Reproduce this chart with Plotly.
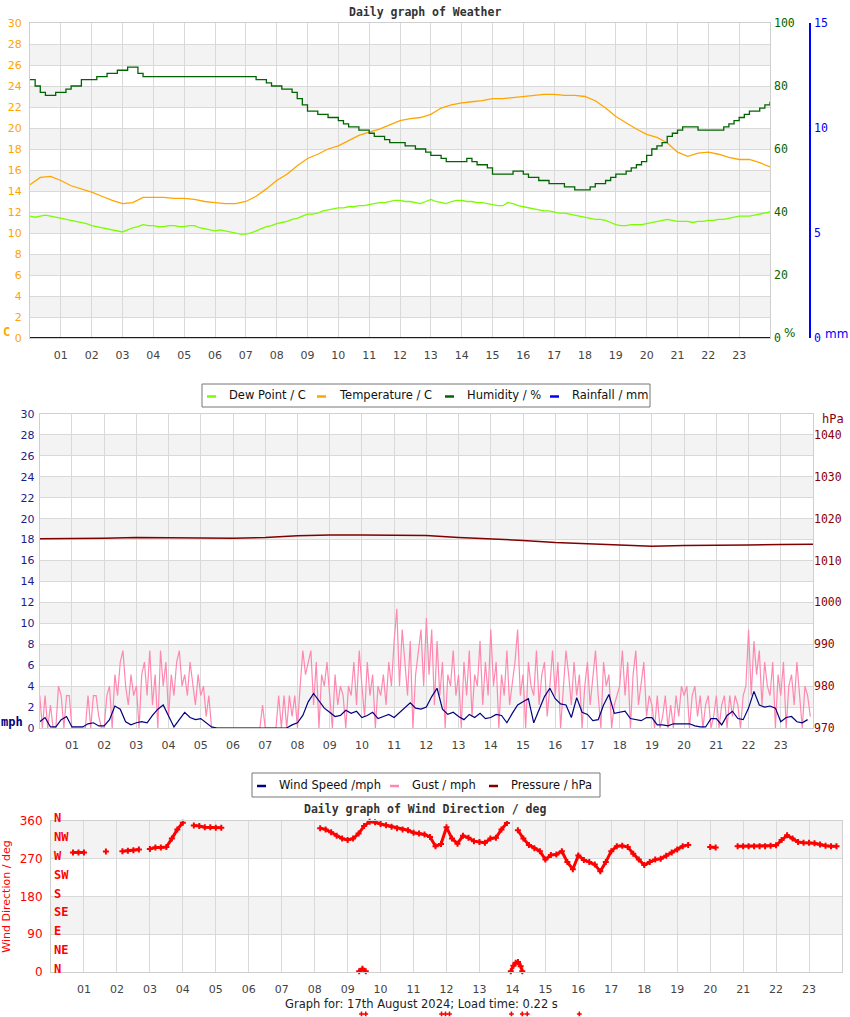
import plotly.graph_objects as go

# ---------------- data ----------------
HOUR_LABELS = ["%02d" % h for h in range(1, 24)]

# 20-minute temperature readings
T20 = [i / 3 for i in range(73)]
TEMP = [14.6, 15.3, 15.4, 15.0, 14.5, 14.2, 13.9, 13.5, 13.1, 12.8, 12.9, 13.4,
        13.4, 13.4, 13.3, 13.3, 13.2, 13.0, 12.9, 12.8, 12.8, 13.0, 13.5, 14.2,
        15.0, 15.6, 16.4, 17.1, 17.5, 18.0, 18.3, 18.8, 19.3, 19.6, 19.9, 20.3,
        20.7, 20.9, 21.0, 21.3, 21.9, 22.2, 22.4, 22.5, 22.6, 22.8, 22.8, 22.9,
        23.0, 23.1, 23.2, 23.2, 23.1, 23.1, 23.0, 22.6, 21.9, 21.1, 20.5, 19.9,
        19.4, 19.1, 18.6, 17.7, 17.3, 17.6, 17.7, 17.5, 17.2, 17.0, 17.0, 16.7,
        16.3]
RAINFALL = [0.0] * 73

# 10-minute readings
T10 = [i / 6 for i in range(145)]
DEW = [11.6, 11.5, 11.6, 11.7, 11.6, 11.5,  11.4, 11.3, 11.2, 11.1, 11.0, 10.9,
       10.7, 10.6, 10.5, 10.4, 10.3, 10.2,  10.1, 10.3, 10.5, 10.6, 10.8, 10.7,
       10.7, 10.6, 10.6, 10.7, 10.7, 10.6,  10.6, 10.7, 10.7, 10.5, 10.4, 10.3,
       10.2, 10.3, 10.2, 10.1, 10.0, 9.9,   9.9, 10.0, 10.2, 10.4, 10.6, 10.7,
       10.9, 11.0, 11.1, 11.3, 11.4, 11.6,  11.8, 11.8, 11.9, 12.1, 12.2, 12.3,
       12.4, 12.4, 12.5, 12.5, 12.6, 12.6,  12.7, 12.8, 12.9, 12.9, 13.0, 13.1,
       13.1, 13.0, 13.0, 12.9, 12.8, 13.0,  13.2, 13.0, 12.9, 12.8, 13.0, 13.1,
       13.1, 13.0, 13.0, 12.9, 12.9, 12.8,  12.7, 12.6, 12.6, 12.9, 12.8, 12.6,
       12.5, 12.4, 12.3, 12.2, 12.1, 12.1,  12.0, 11.9, 11.9, 11.8, 11.7, 11.6,
       11.5, 11.4, 11.3, 11.3, 11.2, 11.0,  10.8, 10.7, 10.7, 10.8, 10.8, 10.8,
       10.9, 11.0, 11.1, 11.2, 11.3, 11.2,  11.1, 11.1, 11.1, 11.0, 11.1, 11.1,
       11.2, 11.2, 11.3, 11.3, 11.4, 11.5,  11.6, 11.6, 11.6, 11.7, 11.8, 11.9,
       12.0]
HUMIDITY = [82, 80, 78, 77, 77, 78,  78, 79, 80, 80, 82, 82,
            82, 83, 83, 84, 84, 85,  85, 86, 86, 84, 83, 83,
            83, 83, 83, 83, 83, 83,  83, 83, 83, 83, 83, 83,
            83, 83, 83, 83, 83, 83,  83, 83, 82, 82, 81, 80,
            80, 79, 79, 78, 76, 74,  72, 72, 71, 71, 70, 70,
            69, 68, 67, 67, 66, 66,  65, 64, 64, 63, 62, 62,
            62, 61, 61, 60, 60, 59,  58, 58, 57, 56, 56, 56,
            56, 57, 56, 55, 55, 54,  52, 52, 52, 52, 53, 53,
            52, 51, 51, 50, 50, 49,  49, 49, 48, 48, 47, 47,
            47, 48, 49, 49, 50, 51,  52, 52, 53, 54, 55, 56,
            58, 60, 61, 62, 64, 65,  66, 67, 67, 67, 66, 66,
            66, 66, 66, 67, 68, 69,  70, 71, 72, 72, 73, 74,
            75]

# chart 2
T10W = [i / 6 for i in range(144)]
WIND_SPEED = [0.6, 1.0, 0.1, 0.1, 0.8, 1.1,  0.1, 0.1, 0.1, 0.4, 0.5, 0.2,
              0.2, 0.8, 2.1, 1.8, 0.6, 0.3,  0.5, 0.6, 0.5, 1.2, 1.8, 2.2,
              1.2, 0.1, 0.8, 1.5, 1.0, 0.8,  0.9, 0.5, 0.1, 0.0, 0.0, 0.0,
              0.0, 0.0, 0.0, 0.0, 0.0, 0.0,  0.0, 0.0, 0.0, 0.0, 0.0, 0.3,
              0.5, 1.2, 2.5, 3.3, 2.6, 1.9,  1.5, 1.1, 1.2, 1.7, 1.4, 1.6,
              1.0, 1.2, 1.5, 0.9, 1.1, 1.3,  1.0, 1.5, 2.0, 2.4, 1.9, 1.8,
              2.0, 3.0, 3.8, 1.8, 1.3, 1.5,  1.1, 0.8, 1.3, 1.0, 1.4, 0.9,
              1.0, 1.3, 1.2, 0.5, 1.4, 2.2,  2.5, 2.8, 0.5, 1.8, 3.0, 3.8,
              2.8, 2.3, 2.2, 1.0, 2.9, 1.5,  1.3, 0.7, 0.8, 2.2, 3.2, 1.4,
              1.5, 1.6, 0.9, 0.8, 0.7, 1.0,  1.0, 0.3, 0.3, 0.2, 0.4, 0.4,
              0.4, 0.4, 0.2, 0.1, 0.1, 0.9,  0.9, 0.3, 1.2, 1.6, 0.9, 0.8,
              1.9, 3.5, 2.2, 2.0, 2.1, 1.9,  0.6, 1.0, 1.1, 0.6, 0.5, 0.8]

T5 = [i / 12 for i in range(288)]
GUST = [3.1, 0, 3.1, 0, 2.2, 0, 0, 4.0, 3.1, 0, 3.1, 3.1,
        0, 0, 0, 0, 0, 0, 3.1, 0, 3.1, 3.1, 1.1, 0,
        0, 3.1, 4.0, 0, 5.1, 3.1, 6.3, 7.4, 4.0, 2.2, 5.1, 3.1,
        4.0, 0, 5.1, 6.3, 3.1, 7.4, 2.2, 5.1, 0, 7.4, 4.0, 6.3,
        1.1, 5.1, 3.1, 6.3, 7.4, 4.0, 5.1, 3.1, 6.3, 4.0, 2.2, 5.1,
        3.1, 4.0, 1.1, 3.1, 0, 0, 0, 0, 0, 0, 0, 0,
        0, 0, 0, 0, 0, 0, 0, 0, 0, 0, 0, 2.2,
        0, 0, 0, 0, 0, 3.1, 0, 3.1, 0, 3.1, 1.1, 3.1,
        0, 4.0, 7.4, 5.1, 6.3, 7.4, 2.2, 6.3, 0, 5.1, 4.0, 6.3,
        3.1, 0, 5.1, 2.2, 4.0, 3.1, 0, 4.0, 3.1, 6.3, 2.2, 7.4,
        4.0, 1.1, 6.3, 3.1, 5.1, 0, 4.0, 3.1, 5.1, 2.2, 6.3, 4.0,
        8.3, 11.4, 4.0, 9.4, 6.3, 3.1, 8.3, 0, 5.1, 7.4, 9.4, 4.0,
        10.5, 5.1, 9.4, 2.2, 8.3, 3.1, 6.3, 0, 5.1, 4.0, 7.4, 3.1,
        5.1, 0, 6.3, 3.1, 7.4, 1.1, 5.1, 4.0, 8.3, 2.2, 6.3, 3.1,
        9.4, 4.0, 6.3, 0, 5.1, 3.1, 7.4, 2.2, 4.0, 6.3, 9.4, 3.1,
        5.1, 0, 6.3, 4.0, 3.1, 7.4, 2.2, 5.1, 6.3, 1.1, 4.0, 7.4,
        3.1, 6.3, 0, 4.0, 7.4, 5.1, 2.2, 6.3, 3.1, 5.1, 0, 4.0,
        6.3, 2.2, 5.1, 7.4, 3.1, 0, 6.3, 4.0, 5.1, 0, 2.2, 3.1,
        4.0, 7.4, 3.1, 6.3, 0, 5.1, 7.4, 2.2, 4.0, 6.3, 1.1, 3.1,
        2.2, 0, 3.1, 0, 1.1, 3.1, 0, 2.2, 0, 3.1, 1.1, 4.0,
        3.1, 4.0, 0, 3.1, 4.0, 1.1, 3.1, 0, 2.2, 3.1, 0, 1.1,
        3.1, 0, 2.2, 3.1, 0, 3.1, 1.1, 3.1, 2.2, 0, 3.1, 4.0,
        9.4, 3.1, 8.3, 5.1, 7.4, 2.2, 6.3, 4.0, 3.1, 6.3, 0, 5.1,
        3.1, 6.3, 0, 4.0, 5.1, 2.2, 6.3, 3.1, 0, 4.0, 3.1, 1.1]

T60 = list(range(25))
PRESSURE = [1015.2, 1015.2, 1015.3, 1015.5, 1015.5, 1015.4, 1015.3, 1015.5,
            1015.9, 1016.1, 1016.1, 1016.1, 1016.0, 1015.5, 1015.2, 1014.8,
            1014.3, 1014.0, 1013.8, 1013.4, 1013.6, 1013.6, 1013.7, 1013.8,
            1013.9]

# chart 3 (10-minute readings, None = no reading)
N_ = None
WIND_DIR = [N_, N_, N_, N_, 285, 285,   285, N_, N_, N_, 287, N_,
            N_, 288, 289, 290, 292, N_,   293, 297, 297, 298, 318, 340,
            356, N_, 349, 348, 345, 345,   344, 344, N_, N_, N_, N_,
            N_, N_, N_, N_, N_, N_,   N_, N_, N_, N_, N_, N_,
            N_, 343, 340, 333, 325, 318,   315, 318, 330, 348, 358, 357,
            353, 350, 346, 343, 340, 338,   332, 330, 328, 322, 300, 305,
            345, 318, 306, 325, 320, 312,   310, 308, 318, 320, 340, 355,
            N_, 338, 318, 303, 295, 288,   268, 279, 280, 288, 262, 245,
            278, 267, 262, 256, 240, 262,   288, 300, 301, 298, 282, 268,
            255, 262, 268, 270, 277, 285,   292, 300, 303, N_, N_, N_,
            298, 297, N_, N_, N_, 300,   300, 300, 300, 300, 300, 301,
            302, 315, 326, 318, 310, 308,   308, 307, 304, 301, 300, 300]
# readings that wrapped past north
WRAP_HOURS = [9.35, 9.45, 9.55, None, 13.95, 14.03, 14.1, 14.17, 14.25, 14.3]
WRAP_DIR = [2, 8, 2, None, 2, 15, 22, 24, 14, 2]
# stray readings plotted below the chart
STRAY_HOURS = [9.42, 9.55, 11.85, 11.97, 12.09, 13.97, 14.3, 14.45, 16.03]
STRAY_DIR = [-100] * 9
COMPASS = [(0, "N"), (45, "NE"), (90, "E"), (135, "SE"), (180, "S"),
           (225, "SW"), (270, "W"), (315, "NW"), (360, "N")]

LEGEND1 = [("Dew Point / C", "#7cfc00"), ("Temperature / C", "#ffa500"),
           ("Humidity / %", "#006400"), ("Rainfall / mm", "#0000ff")]
LEGEND2 = [("Wind Speed /mph", "#000080"), ("Gust / mph", "#ff88b0"),
           ("Pressure / hPa", "#800000")]

# ---------------- figure ----------------
W, H = 850, 1017
def px(x): return x / W
def py(y): return 1 - y / H

SANS = "DejaVu Sans"
MONO = "DejaVu Sans Mono"
GRID = "#d9d9d9"
BAND = "#f3f3f3"

fig = go.Figure()

# chart 1
fig.add_trace(go.Scatter(x=T10, y=HUMIDITY, xaxis="x", yaxis="y2", name="Humidity / %",
                         mode="lines", line=dict(color="#006400", width=1.3, shape="hv")))
fig.add_trace(go.Scatter(x=T20, y=TEMP, xaxis="x", yaxis="y", name="Temperature / C",
                         mode="lines", line=dict(color="#ffa500", width=1.3)))
fig.add_trace(go.Scatter(x=T10, y=DEW, xaxis="x", yaxis="y", name="Dew Point / C",
                         mode="lines", line=dict(color="#7cfc00", width=1.3)))
fig.add_trace(go.Scatter(x=T20, y=RAINFALL, xaxis="x", yaxis="y3", name="Rainfall / mm",
                         mode="lines", line=dict(color="#0000ff", width=2), cliponaxis=False))

# chart 2
fig.add_trace(go.Scatter(x=T5, y=GUST, xaxis="x2", yaxis="y4", name="Gust / mph",
                         mode="lines", line=dict(color="#ff88b0", width=1.2)))
fig.add_trace(go.Scatter(x=T10W, y=WIND_SPEED, xaxis="x2", yaxis="y4", name="Wind Speed /mph",
                         mode="lines", line=dict(color="#000080", width=1.2), cliponaxis=False))
fig.add_trace(go.Scatter(x=T60, y=PRESSURE, xaxis="x2", yaxis="y5", name="Pressure / hPa",
                         mode="lines", line=dict(color="#800000", width=1.5)))

# chart 3
fig.add_trace(go.Scatter(x=T10W, y=WIND_DIR, xaxis="x3", yaxis="y6", name="Wind Direction",
                         mode="lines+markers", line=dict(color="#ff0000", width=3),
                         marker=dict(color="#ff0000", size=5, symbol="cross"),
                         cliponaxis=False))
fig.add_trace(go.Scatter(x=WRAP_HOURS, y=WRAP_DIR, xaxis="x3", yaxis="y6", name="Wind Direction",
                         mode="lines+markers", line=dict(color="#ff0000", width=3),
                         marker=dict(color="#ff0000", size=5, symbol="cross"),
                         cliponaxis=False))
# stray readings on hidden axes with the same hour/degree scales, extended downwards
fig.add_trace(go.Scatter(x=STRAY_HOURS, y=STRAY_DIR, xaxis="x4", yaxis="y7", name="Wind Direction",
                         mode="markers", marker=dict(color="#ff0000", size=4, symbol="cross")))

xcommon = dict(range=[0, 24], tickvals=list(range(1, 24)), ticktext=HOUR_LABELS,
               showgrid=True, gridcolor=GRID, zeroline=False, showline=True,
               linecolor="#cfcfcf", mirror=True, ticks="", automargin=False,
               tickfont=dict(family=SANS, size=11, color="#444"), ticklabelstandoff=7,
               fixedrange=True)
ycommon = dict(showgrid=True, gridcolor=GRID, zeroline=False, showline=True,
               linecolor="#cfcfcf", mirror=True, ticks="", automargin=False)

# degree scale of chart 3, used to extend the hidden axis below the chart
DEG_TOP, DEG_BOT = 821, 972
deg_px = (DEG_BOT - DEG_TOP) / 360.0
hidden_low = -(H - DEG_BOT) / deg_px

fig.update_layout(
    width=W, height=H, margin=dict(l=0, r=0, t=0, b=0),
    paper_bgcolor="white", plot_bgcolor="rgba(0,0,0,0)", showlegend=False,
    font=dict(family=SANS, size=11, color="#222"),
    xaxis=dict(domain=[px(30), px(770)], anchor="y", **xcommon),
    yaxis=dict(domain=[py(338), py(23)], anchor="x", range=[0, 30], dtick=2, tick0=0,
               ticklabelstandoff=5,
               tickfont=dict(family=SANS, size=11, color="#ffa500"), **ycommon),
    yaxis2=dict(overlaying="y", anchor="x", side="right", range=[0, 100], dtick=20,
                showgrid=False, zeroline=False, ticks="", ticklabelstandoff=3,
                automargin=False,
                tickfont=dict(family=MONO, size=11.5, color="#006400")),
    yaxis3=dict(overlaying="y", side="right", anchor="free", position=px(810),
                range=[0, 15], dtick=5, showgrid=False, zeroline=False, ticks="",
                showline=True, linecolor="#0000ff", linewidth=1.5, ticklabelstandoff=1,
                automargin=False,
                tickfont=dict(family=MONO, size=11.5, color="#0000ff")),
    xaxis2=dict(domain=[px(39.7), px(813)], anchor="y4", **xcommon),
    yaxis4=dict(domain=[py(728), py(414)], anchor="x2", range=[0, 30], dtick=2, tick0=0,
                ticklabelstandoff=2,
                tickfont=dict(family=SANS, size=11, color="#1c1c8c"), **ycommon),
    yaxis5=dict(overlaying="y4", anchor="x2", side="right", range=[970, 1045],
                tickvals=[970, 980, 990, 1000, 1010, 1020, 1030, 1040],
                showgrid=False, zeroline=False, ticks="", ticklabelstandoff=0,
                automargin=False,
                tickfont=dict(family=MONO, size=11.5, color="#8b0000")),
    xaxis3=dict(domain=[px(51), px(842)], anchor="y6", **xcommon),
    yaxis6=dict(domain=[py(DEG_BOT), py(DEG_TOP)], anchor="x3", range=[0, 360],
                tickvals=[0, 90, 180, 270, 360], ticklabelstandoff=5,
                tickfont=dict(family=SANS, size=12, color="#ff0000"),
                title=dict(text="Wind Direction / deg", standoff=6,
                           font=dict(family=SANS, size=11, color="#ff0000")),
                **ycommon),
    xaxis4=dict(domain=[px(51), px(842)], anchor="y7", range=[0, 24], visible=False,
                showgrid=False, automargin=False, fixedrange=True),
    yaxis7=dict(domain=[0, py(DEG_TOP)], anchor="x4", range=[hidden_low, 360],
                visible=False, showgrid=False, automargin=False, fixedrange=True),
)

# alternating bands
shapes = []
for v in range(2, 30, 4):
    for yr, xr in (("y", "x domain"), ("y4", "x2 domain")):
        shapes.append(dict(type="rect", xref=xr, yref=yr, x0=0, x1=1, y0=v, y1=v + 2,
                           fillcolor=BAND, line=dict(width=0), layer="below"))
for v in (90, 270):
    shapes.append(dict(type="rect", xref="x3 domain", yref="y6", x0=0, x1=1, y0=v, y1=v + 90,
                       fillcolor=BAND, line=dict(width=0), layer="below"))

ann = []
def A(text, x, y, size=11, color="#222", family=SANS, xanchor="center", **kw):
    d = dict(text=text, x=px(x), y=py(y), xref="paper", yref="paper", showarrow=False,
             font=dict(family=family, size=size, color=color), xanchor=xanchor,
             yanchor="middle")
    d.update(kw)
    ann.append(d)

# legend boxes (drawn as a key beneath each chart)
def legend_box(x0, x1, y0, y1, items, starts):
    shapes.append(dict(type="rect", xref="paper", yref="paper", x0=px(x0), x1=px(x1),
                       y0=py(y1), y1=py(y0), line=dict(color="#777", width=1),
                       fillcolor="white", layer="above"))
    ym = (y0 + y1) / 2
    for (label, col), sx in zip(items, starts):
        shapes.append(dict(type="line", xref="paper", yref="paper", x0=px(sx), x1=px(sx + 9),
                           y0=py(ym + 1), y1=py(ym + 1), line=dict(color=col, width=2.5),
                           layer="above"))
        A(label, sx + 20, ym, size=11.5, color="#111", xanchor="left")

legend_box(202, 650, 384, 407, LEGEND1, [207, 317, 445, 550])
legend_box(252, 600, 773, 797, LEGEND2, [257, 390, 489])

A("<b>Daily graph of Weather</b>", 425, 12, size=11.5, color="#333", family=MONO)
A("<b>C</b>", 6, 332, size=12, color="#ffa500", family=MONO)
A("%", 789, 333, size=12, color="#006400")
A("mm", 836, 334, size=12, color="#0000ff")
A("<b>mph</b>", 12, 722, size=12, color="#000080", family=MONO)
A("hPa", 833, 419, size=12, color="#8b0000", family=MONO)
A("<b>Daily graph of Wind Direction / deg</b>", 425, 809, size=11.5, color="#333", family=MONO)
A("Graph for: 17th August 2024; Load time: 0.22 s", 421, 1004, size=11.5, color="#222")
for val, lab in COMPASS:
    ann.append(dict(text="<b>%s</b>" % lab, x=0, y=val, xref="x3 domain", yref="y6",
                    showarrow=False, xanchor="left", yanchor="middle", xshift=1, yshift=3,
                    font=dict(family=MONO, size=12, color="#ff0000")))
fig.update_layout(shapes=shapes, annotations=ann)

fig.write_html("out.html")
